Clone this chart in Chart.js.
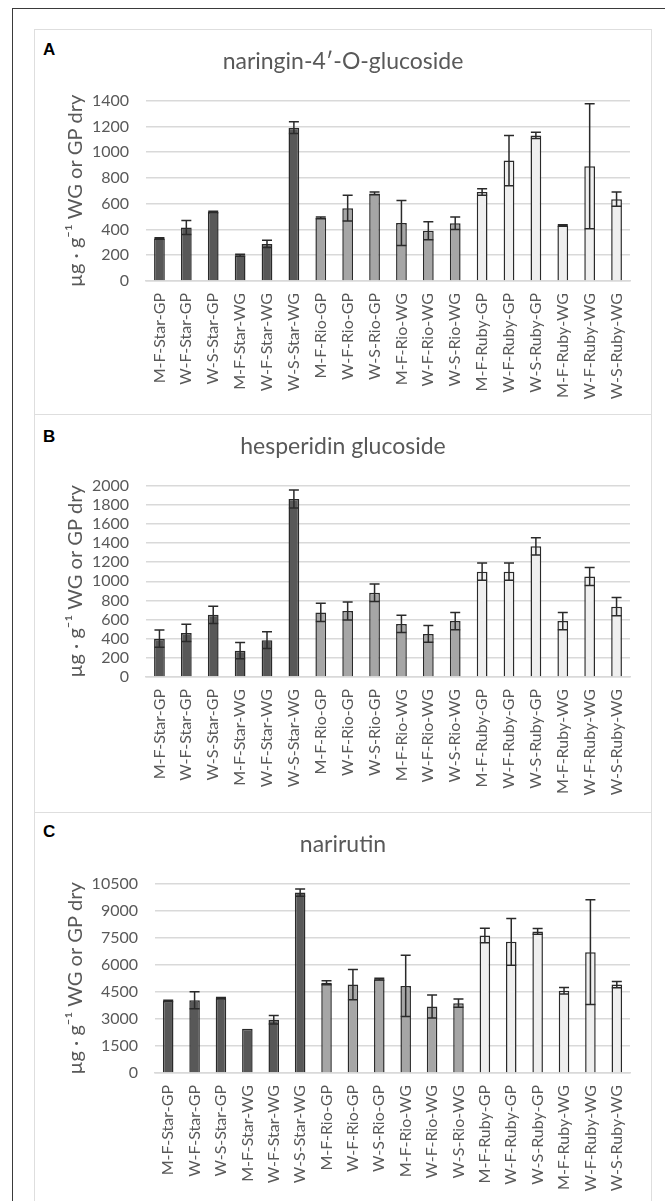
<!DOCTYPE html>
<html><head><meta charset="utf-8">
<script src="https://cdn.jsdelivr.net/npm/chart.js@4.4.1/dist/chart.umd.min.js"></script>
<style>
html,body{margin:0;padding:0;background:#fff;}
body{width:665px;height:1201px;position:relative;overflow:hidden;font-family:Lato,sans-serif;}
#frame{position:absolute;left:12px;top:8px;width:700px;height:1300px;border-left:1.5px solid #3a3a3a;border-top:1.5px solid #3a3a3a;box-sizing:border-box;}
.pbox{position:absolute;left:34px;width:618px;border:1.5px solid #dedede;box-sizing:border-box;}
.letter{position:absolute;left:43px;font:bold 17px "Liberation Sans",Arial,sans-serif;color:#000;line-height:20px;}
.cw{position:absolute;left:34px;width:618px;}
</style>
</head><body>
<div id="frame"></div>
<div class="pbox" style="top:29px;height:386px"></div>
<div class="pbox" style="top:414px;height:399px"></div>
<div class="pbox" style="top:812px;height:420px"></div>
<div class="letter" style="top:40px">A</div>
<div class="letter" style="top:427px">B</div>
<div class="letter" style="top:822px">C</div>
<div class="cw" style="top:29px;height:385px"><canvas id="cA"></canvas></div>
<div class="cw" style="top:414px;height:398px"><canvas id="cB"></canvas></div>
<div class="cw" style="top:812px;height:389px"><canvas id="cC"></canvas></div>
<script>
const categories = ["M-F-Star-GP","W-F-Star-GP","W-S-Star-GP","M-F-Star-WG","W-F-Star-WG","W-S-Star-WG",
  "M-F-Rio-GP","W-F-Rio-GP","W-S-Rio-GP","M-F-Rio-WG","W-F-Rio-WG","W-S-Rio-WG",
  "M-F-Ruby-GP","W-F-Ruby-GP","W-S-Ruby-GP","M-F-Ruby-WG","W-F-Ruby-WG","W-S-Ruby-WG"];
const cultivarOfBar = ["Star","Star","Star","Star","Star","Star","Rio","Rio","Rio","Rio","Rio","Rio","Ruby","Ruby","Ruby","Ruby","Ruby","Ruby"];

const naringinTitle = "naringin-4\u2032-O-glucoside";
const naringinValues = [330,415,535,200,288,1190,490,565,680,450,390,448,690,935,1130,430,890,635];
const naringinErrors = [6,55,6,8,28,45,6,100,10,175,70,48,25,195,25,6,485,55];
const naringinTicks = {min:0, max:1400, step:200};

const hesperidinTitle = "hesperidin glucoside";
const hesperidinValues = [400,460,650,275,385,1860,675,690,880,555,450,585,1100,1100,1365,585,1050,735];
const hesperidinErrors = [90,90,90,85,87,95,95,95,92,90,87,90,90,90,90,90,95,95];
const hesperidinTicks = {min:0, max:2000, step:200};

const narirutinTitle = "narirutin";
const narirutinValues = [4000,4030,4150,2450,2950,10000,5000,4900,5200,4830,3690,3870,7620,7270,7850,4560,6700,4900];
const narirutinErrors = [30,470,40,0,235,200,110,840,50,1700,640,230,400,1300,160,180,2900,170];
const narirutinTicks = {min:0, max:10500, step:1500};

const yAxisTitle = "\u00b5g \u00b7 g\u207b\u00b9 WG or GP dry";
const fillColors = {Star:"#585858", Rio:"#a6a6a6", Ruby:"#efefef"};
const textGray = "#595959";

const errorBarPlugin = {
  id:'errorBars',
  afterDatasetsDraw(chart){
    const errs = chart.options.plugins.errorBars.errors;
    const meta = chart.getDatasetMeta(0);
    const ys = chart.scales.y;
    const vals = chart.data.datasets[0].data;
    const ctx = chart.ctx;
    ctx.save();
    ctx.strokeStyle = '#2a2a2a';
    ctx.lineWidth = 1.5;
    meta.data.forEach((bar,i)=>{
      const e = errs[i];
      if(!e) return;
      const x = bar.x;
      const yt = ys.getPixelForValue(vals[i]+e);
      const yb = ys.getPixelForValue(Math.max(0,vals[i]-e));
      const hw = 5;
      ctx.beginPath();
      ctx.moveTo(x,yt); ctx.lineTo(x,yb);
      ctx.moveTo(x-hw,yt); ctx.lineTo(x+hw,yt);
      ctx.moveTo(x-hw,yb); ctx.lineTo(x+hw,yb);
      ctx.stroke();
    });
    ctx.restore();
  }
};

function makeChart(id, title, values, errors, ticks, yWidth, plotBottom, totalH){
  return new Chart(document.getElementById(id), {
    type:'bar',
    data:{labels:categories, datasets:[{
      data:values,
      backgroundColor:cultivarOfBar.map(c=>fillColors[c]),
      borderColor:'#2a2a2a', borderWidth:1.5,
      barPercentage:0.4, categoryPercentage:1.0
    }]},
    options:{
      responsive:true, maintainAspectRatio:false, animation:false,
      layout:{padding:{left:22,right:22,top:0,bottom:0}},
      plugins:{
        legend:{display:false}, tooltip:{enabled:false},
        title:{display:true, text:title, color:textGray, font:{family:'Lato', size:23, weight:'normal'}, padding:{top:19,bottom:25}},
        errorBars:{errors:errors}
      },
      scales:{
        x:{
          grid:{display:false, drawTicks:false},
          border:{display:true, color:'#d9d9d9', width:1.5},
          ticks:{color:textGray, font:{family:'Lato', size:16}, minRotation:90, maxRotation:90, padding:12, autoSkip:false},
          afterFit(s){ s.height = totalH - plotBottom; }
        },
        y:{
          min:ticks.min, max:ticks.max,
          grid:{color:'#d9d9d9', lineWidth:1.5, drawTicks:false},
          border:{display:false},
          ticks:{stepSize:ticks.step, autoSkip:false, color:textGray, font:{family:'Lato', size:16}, padding:17, callback:v=>String(v)},
          title:{display:true, text:yAxisTitle, color:textGray, font:{family:'Lato', size:20}, padding:{top:8,bottom:0}},
          afterFit(s){ s.width = yWidth; }
        }
      }
    },
    plugins:[errorBarPlugin]
  });
}
makeChart('cA', naringinTitle, naringinValues, naringinErrors, naringinTicks, 90, 252, 385);
makeChart('cB', hesperidinTitle, hesperidinValues, hesperidinErrors, hesperidinTicks, 90, 263, 398);
makeChart('cC', narirutinTitle, narirutinValues, narirutinErrors, narirutinTicks, 99, 261, 389);
</script>
</body></html>
